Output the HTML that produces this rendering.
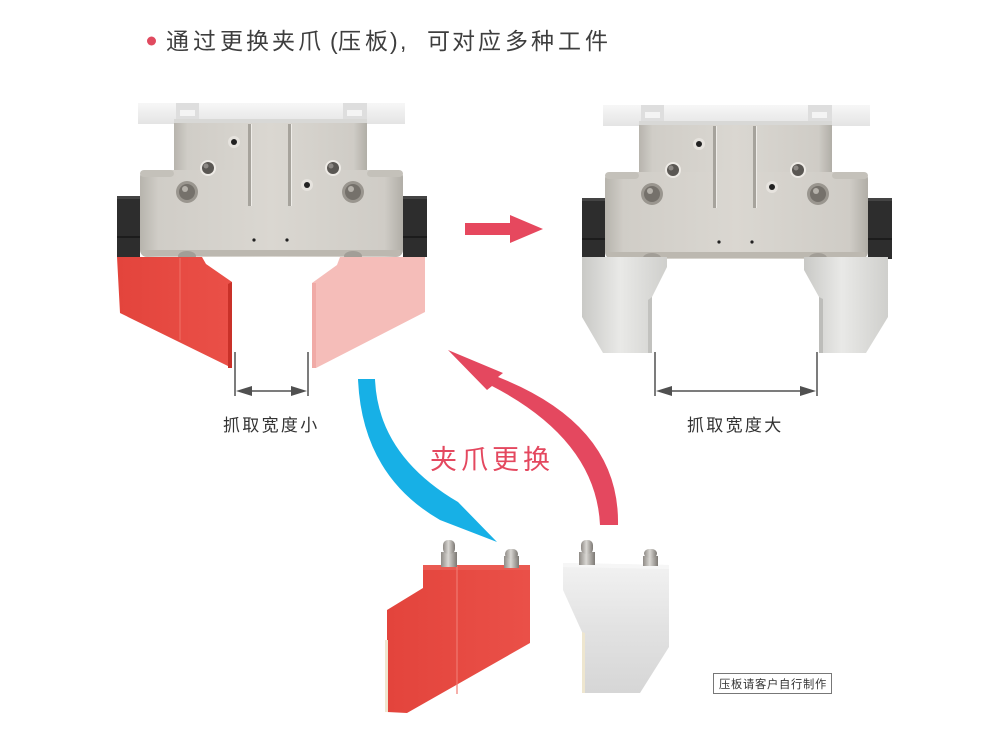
<!DOCTYPE html>
<html><head><meta charset="utf-8"><style>
html,body{margin:0;padding:0;background:#fff;}
svg{display:block;}
text{font-family:"Liberation Sans","Noto Sans CJK SC",sans-serif;}
</style></head><body>
<svg width="998" height="745" viewBox="0 0 998 745" xmlns="http://www.w3.org/2000/svg">
<defs>
<linearGradient id="mt" x1="0" y1="0" x2="1" y2="0">
<stop offset="0" stop-color="#b7b4ad"/><stop offset="0.07" stop-color="#d0cdc7"/><stop offset="0.5" stop-color="#dad7d1"/><stop offset="0.93" stop-color="#cfccc6"/><stop offset="1" stop-color="#b1aea7"/>
</linearGradient>
<linearGradient id="wt" x1="0" y1="0" x2="0" y2="1">
<stop offset="0" stop-color="#f7f7f7"/><stop offset="1" stop-color="#e4e4e4"/>
</linearGradient>
<linearGradient id="sv" x1="0" y1="0" x2="1" y2="0">
<stop offset="0" stop-color="#c9c9c6"/><stop offset="0.45" stop-color="#e9e9e7"/><stop offset="1" stop-color="#cfcfcc"/>
</linearGradient>
<linearGradient id="sv2" x1="0" y1="0" x2="0" y2="1">
<stop offset="0" stop-color="#f2f2f2"/><stop offset="0.5" stop-color="#e2e2e2"/><stop offset="1" stop-color="#d6d6d6"/>
</linearGradient>
<linearGradient id="rd" x1="0" y1="0" x2="1" y2="0">
<stop offset="0" stop-color="#e3443c"/><stop offset="1" stop-color="#ea5048"/>
</linearGradient>
<linearGradient id="scr" x1="0" y1="0" x2="1" y2="0">
<stop offset="0" stop-color="#8f8b86"/><stop offset="0.45" stop-color="#d9d7d3"/><stop offset="1" stop-color="#7d7974"/>
</linearGradient>
<g id="body">
<rect x="138" y="103" width="267" height="21" fill="url(#wt)"/>
<rect x="176" y="103" width="23" height="16" fill="#dedede"/>
<rect x="343" y="103" width="24" height="16" fill="#dedede"/>
<rect x="180" y="110" width="15" height="6" fill="#f4f4f4"/>
<rect x="347" y="110" width="15" height="6" fill="#f4f4f4"/>
<rect x="174" y="119" width="193" height="5" fill="#d8d8d6"/>
<rect x="174" y="123" width="193" height="52" fill="url(#mt)"/>
<rect x="140" y="170" width="263" height="87" rx="7" fill="url(#mt)"/>
<rect x="140" y="170" width="34" height="7" rx="4" fill="#c4c1ba"/>
<rect x="367" y="170" width="36" height="7" rx="4" fill="#c4c1ba"/>
<rect x="143" y="250" width="257" height="6" fill="#bcb8b0"/>
<rect x="248" y="124" width="3" height="82" fill="#a6a39c"/>
<rect x="251" y="124" width="1" height="82" fill="#eeece8"/>
<rect x="288" y="124" width="3" height="82" fill="#a6a39c"/>
<rect x="291" y="124" width="1" height="82" fill="#eeece8"/>
<!-- holes -->
<circle cx="234" cy="142" r="6" fill="#e6e3de"/><circle cx="234" cy="142" r="3" fill="#222"/>
<circle cx="307" cy="185" r="6" fill="#e6e3de"/><circle cx="307" cy="185" r="3" fill="#222"/>
<circle cx="208" cy="168" r="8" fill="#eeebe6"/><circle cx="208" cy="168" r="6" fill="#5a5753"/><circle cx="206" cy="166" r="2.5" fill="#8c8884"/>
<circle cx="333" cy="168" r="8" fill="#eeebe6"/><circle cx="333" cy="168" r="6" fill="#5a5753"/><circle cx="331" cy="166" r="2.5" fill="#8c8884"/>
<circle cx="187" cy="192" r="11" fill="#9a968f"/><circle cx="187" cy="192" r="8" fill="#75716b"/><circle cx="185" cy="189" r="3" fill="#b5b1aa"/>
<circle cx="353" cy="192" r="11" fill="#9a968f"/><circle cx="353" cy="192" r="8" fill="#75716b"/><circle cx="351" cy="189" r="3" fill="#b5b1aa"/>
<circle cx="254" cy="240" r="1.6" fill="#222"/><circle cx="287" cy="240" r="1.6" fill="#222"/>
<ellipse cx="187" cy="256" rx="9" ry="5" fill="#a29e97"/>
<ellipse cx="353" cy="256" rx="9" ry="5" fill="#a29e97"/>
<!-- black blocks -->
<rect x="117" y="196" width="23" height="61" fill="#2d2d2d"/>
<rect x="117" y="196" width="23" height="3" fill="#444"/>
<rect x="117" y="236" width="23" height="2" fill="#1c1c1c"/>
<rect x="403" y="196" width="24" height="61" fill="#2d2d2d"/>
<rect x="403" y="196" width="24" height="3" fill="#444"/>
<rect x="403" y="236" width="24" height="2" fill="#1c1c1c"/>
</g>
</defs>

<!-- title -->
<circle cx="151.5" cy="41" r="4.5" fill="#e04a5f"/>
<text y="49" font-size="23" fill="#3e3e3e" x="166 193 220 246 272 298 330 338 365 390 400 427 452 478 505 531 558 585">通过更换夹爪(压板),可对应多种工件</text>

<!-- left gripper -->
<use href="#body"/>
<polygon points="117,257 202,257 206,264 232,282 232,368 120,313" fill="url(#rd)"/>
<polygon points="228,284 232,282 232,368 228,368" fill="#c93129"/>
<rect x="179" y="258" width="2" height="82" fill="#ef6a62" opacity="0.6"/>
<polygon points="340,257 425,257 425,312 316,368 312,368 312,283 337,265" fill="#f5bdb9"/>
<polygon points="312,283 316,283 316,368 312,368" fill="#f0aaa6"/>

<!-- right gripper -->
<use href="#body" transform="translate(465,2)"/>
<polygon points="582,257 667,257 667,267 652,297 652,353 603,353 582,317" fill="url(#sv)"/>
<polygon points="648,300 652,297 652,353 648,353" fill="#c2c2bf"/>
<polygon points="804,257 888,257 888,317 866,353 819,353 819,297 804,270" fill="url(#sv)"/>
<polygon points="819,297 823,299 823,353 819,353" fill="#bdbdba"/>

<!-- dimension left -->
<g stroke="#505050" stroke-width="1.5" fill="none">
<line x1="235" y1="352" x2="235" y2="396"/>
<line x1="308" y1="352" x2="308" y2="396"/>
<line x1="240" y1="391" x2="303" y2="391"/>
<line x1="655" y1="352" x2="655" y2="396"/>
<line x1="817" y1="352" x2="817" y2="396"/>
<line x1="660" y1="391" x2="812" y2="391"/>
</g>
<g fill="#505050">
<polygon points="236,391 252,386 252,396"/>
<polygon points="307,391 291,386 291,396"/>
<polygon points="656,391 672,386 672,396"/>
<polygon points="816,391 800,386 800,396"/>
</g>
<text x="223" y="431" font-size="17" fill="#333" letter-spacing="2.3">抓取宽度小</text>
<text x="687" y="431" font-size="17" fill="#333" letter-spacing="2.3">抓取宽度大</text>

<!-- straight arrow -->
<polygon points="465,223 510,223 510,215 543,229 510,243 510,235 465,235" fill="#e6485e"/>

<!-- blue curved arrow -->
<path d="M358,379 L375,379 Q378,455 458,502 L497,542 L440,520 Q362,475 358,379 Z" fill="#17b0e6"/>
<!-- red curved arrow -->
<path d="M600,525 L618,525 Q620,425 498,377 L503,373 L448,350 L487,390 L492,386 Q596,440 600,525 Z" fill="#e4485f"/>
<text x="430" y="469" font-size="27" fill="#e4485f" letter-spacing="4">夹爪更换</text>

<!-- bottom red claw -->
<polygon points="423,565 530,565 530,643 407,713 387,712 387,610 423,588" fill="url(#rd)"/>
<polygon points="423,565 530,565 530,570 423,570" fill="#ea5a52"/>
<rect x="456" y="566" width="2" height="128" fill="#f07a72" opacity="0.6"/>
<polygon points="385,640 388,640 388,712 385,712" fill="#efe6cf"/>
<!-- screws red -->
<rect x="441" y="552" width="16" height="15" fill="url(#scr)"/>
<rect x="443" y="540" width="12" height="14" rx="5" fill="url(#scr)"/>
<rect x="504" y="556" width="15" height="12" fill="url(#scr)"/>
<rect x="505" y="549" width="13" height="10" rx="5" fill="url(#scr)"/>

<!-- bottom silver claw -->
<polygon points="563,563 669,565 669,647 640,693 582,693 582,632 563,590" fill="url(#sv2)"/>
<polygon points="563,563 669,565 669,569 563,567" fill="#f6f6f6"/>
<polygon points="582,632 585,633 585,693 582,693" fill="#eee6cf"/>
<rect x="579" y="552" width="16" height="13" fill="url(#scr)"/>
<rect x="581" y="540" width="12" height="14" rx="5" fill="url(#scr)"/>
<rect x="643" y="556" width="15" height="10" fill="url(#scr)"/>
<rect x="644" y="549" width="13" height="9" rx="5" fill="url(#scr)"/>

<!-- note box -->
<rect x="713.5" y="673.5" width="118" height="20" fill="#fff" stroke="#777" stroke-width="1"/>
<text x="719" y="688" font-size="11.3" fill="#333" letter-spacing="0.7">压板请客户自行制作</text>
</svg>
</body></html>
